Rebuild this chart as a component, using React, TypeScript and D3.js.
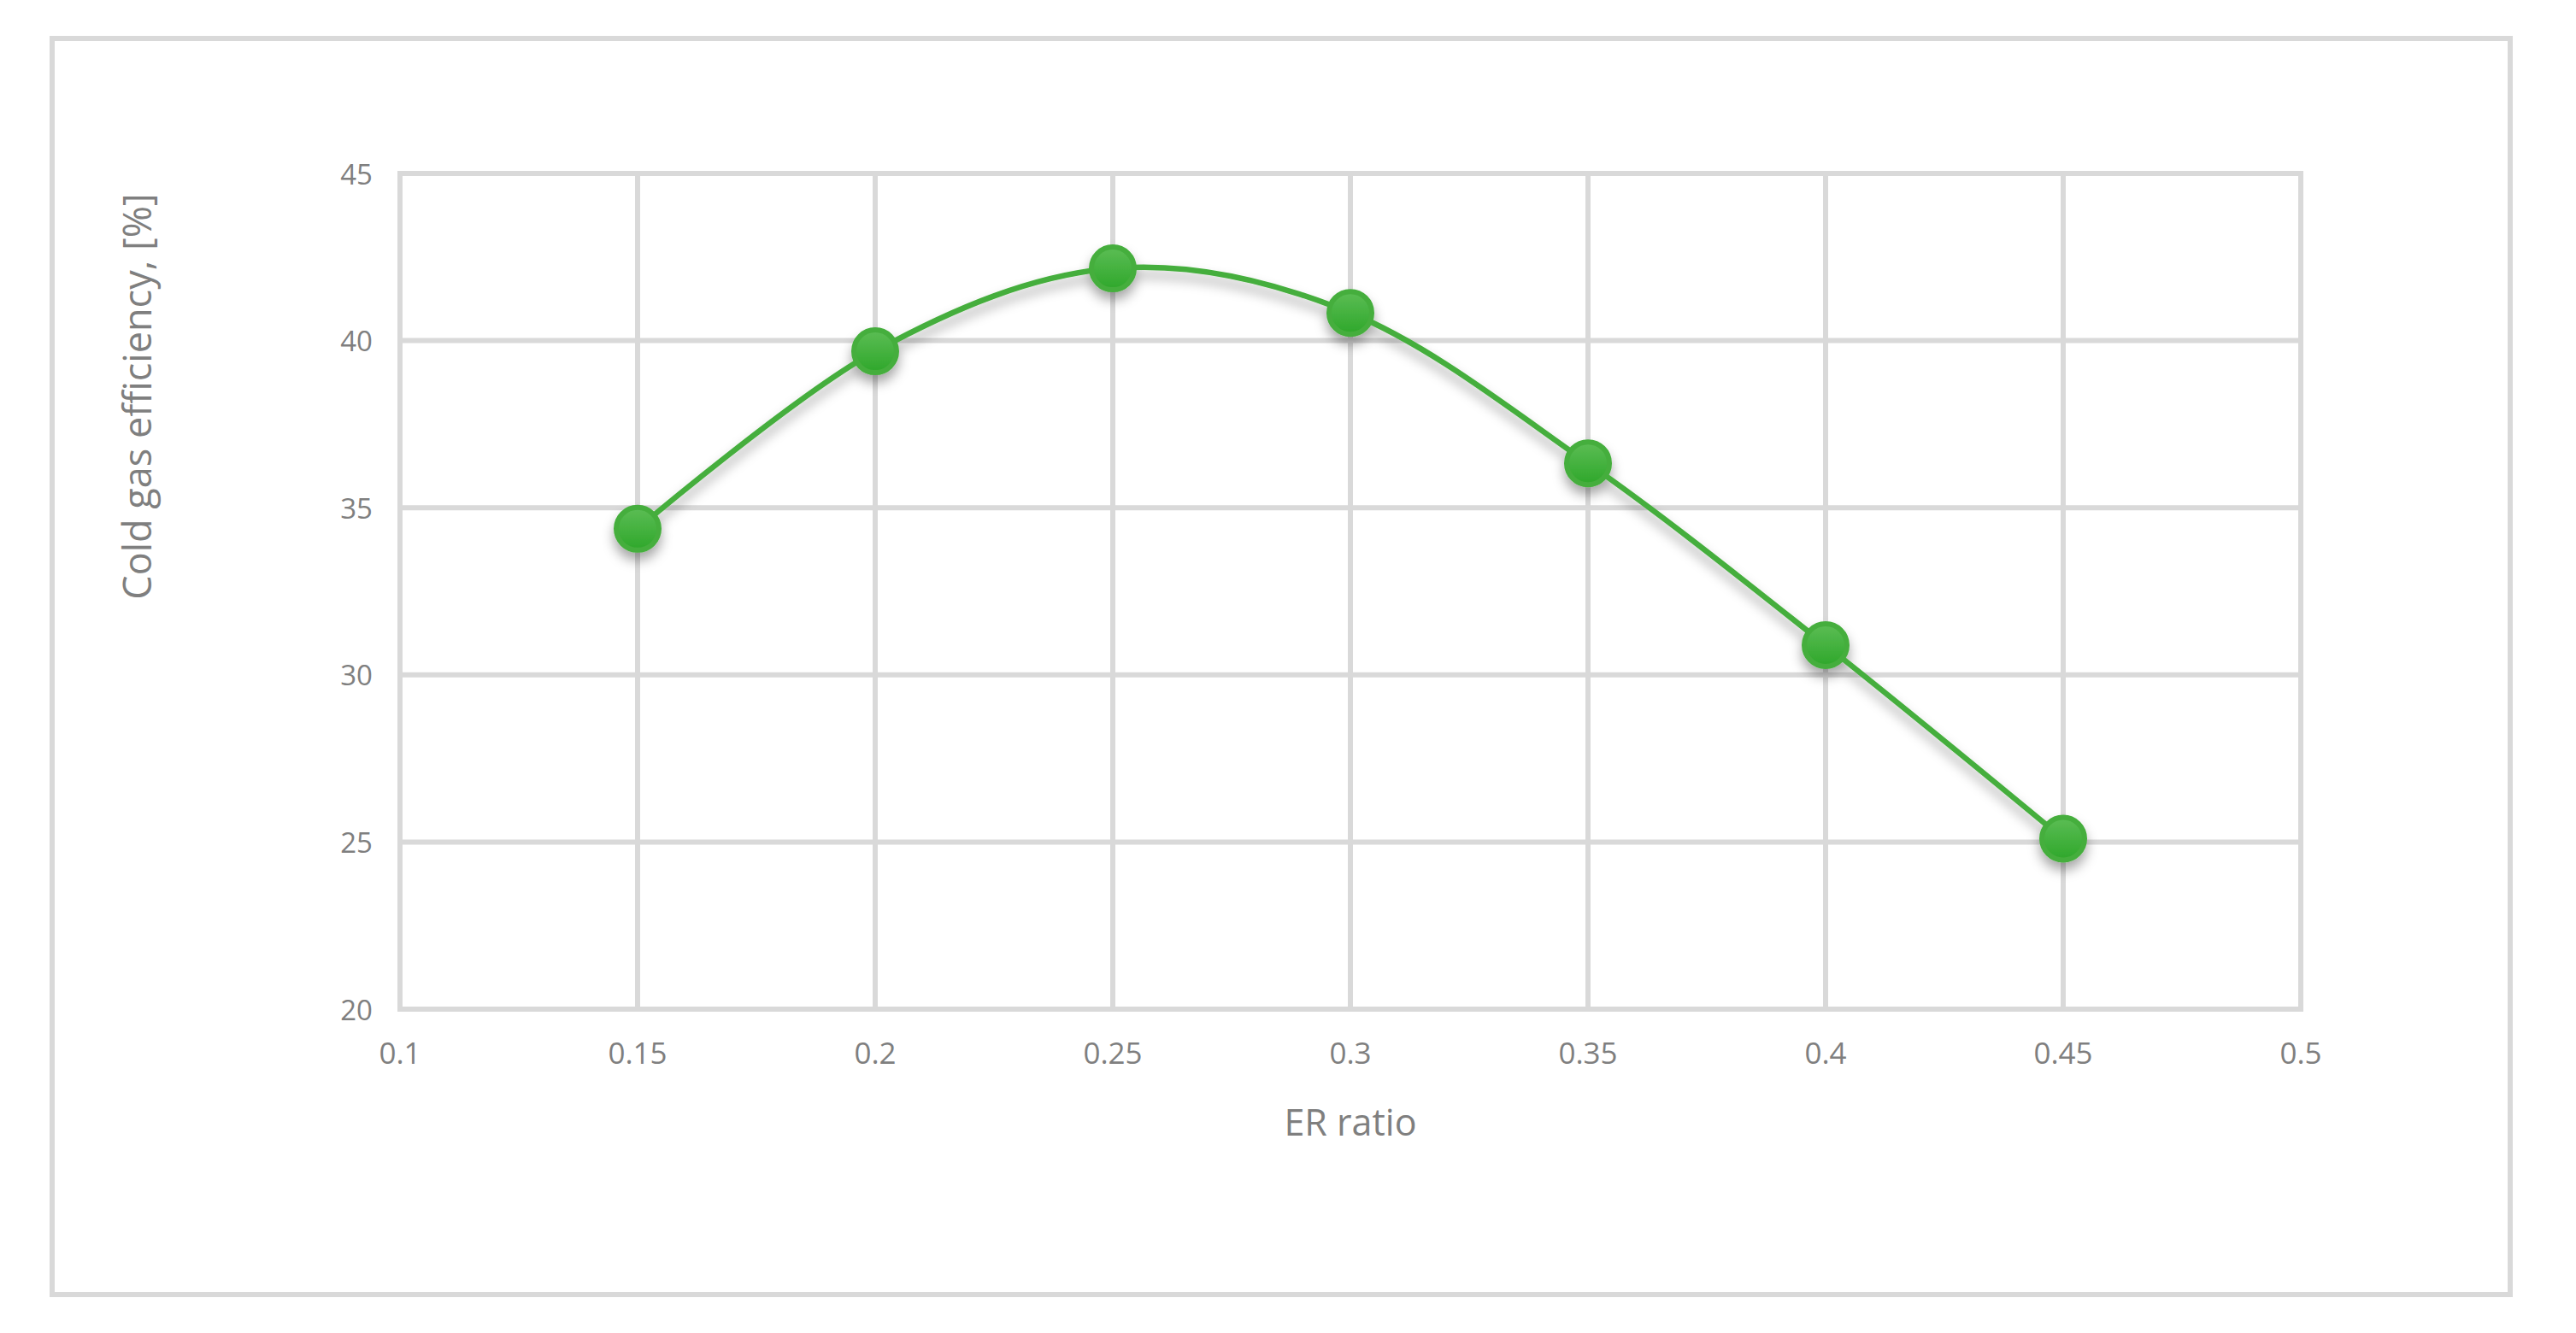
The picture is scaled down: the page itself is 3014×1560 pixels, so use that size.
import React from "react";
import * as d3 from "d3";

const erRatio = [0.15, 0.2, 0.25, 0.3, 0.35, 0.4, 0.45];
const coldGasEfficiency = [34.37, 39.68, 42.16, 40.83, 36.33, 30.89, 25.1];
const xTicks = [0.1, 0.15, 0.2, 0.25, 0.3, 0.35, 0.4, 0.45, 0.5];
const yTicks = [20, 25, 30, 35, 40, 45];
const xTitle = "ER ratio";
const yTitle = "Cold gas efficiency, [%]";

const W = 3014;
const H = 1560;
const plot = { left: 468, right: 2692, top: 203, bottom: 1181 };
const GRID = "#d9d9d9";
const TEXT = "#7f7f7f";
const GREEN = "#45ae3c";
const FONT = "'Open Sans', 'Noto Sans', sans-serif";

export default function App() {
  const x = d3.scaleLinear().domain([0.1, 0.5]).range([plot.left, plot.right]);
  const y = d3.scaleLinear().domain([20, 45]).range([plot.bottom, plot.top]);
  const pts: [number, number][] = erRatio.map((e, i) => [x(e), y(coldGasEfficiency[i])]);
  const line = d3.line().curve(d3.curveCardinal.tension(0))(pts) || "";

  return (
    <svg
      width={W}
      height={H}
      viewBox={`0 0 ${W} ${H}`}
      style={{ position: "absolute", left: 0, top: 0, background: "#fff" }}
    >
      <defs>
        <filter id="shadow" x="-50%" y="-50%" width="200%" height="200%">
          <feDropShadow dx="0" dy="9" stdDeviation="7" floodColor="#000" floodOpacity="0.35" />
        </filter>
        <linearGradient id="mk" x1="0" y1="0" x2="0" y2="1">
          <stop offset="0%" stopColor="#5cbd55" />
          <stop offset="100%" stopColor="#2ea72a" />
        </linearGradient>
      </defs>
      <rect x={0} y={0} width={W} height={H} fill="#fff" />
      <rect x={61} y={45} width={2876} height={1470} fill="none" stroke={GRID} strokeWidth={6} />

      {yTicks.map((t) => (
        <line key={"gy" + t} x1={plot.left} x2={plot.right} y1={y(t)} y2={y(t)} stroke={GRID} strokeWidth={6} />
      ))}
      {xTicks.map((t) => (
        <line key={"gx" + t} x1={x(t)} x2={x(t)} y1={plot.top} y2={plot.bottom} stroke={GRID} strokeWidth={6} />
      ))}
      <rect
        x={plot.left}
        y={plot.top}
        width={plot.right - plot.left}
        height={plot.bottom - plot.top}
        fill="none"
        stroke={GRID}
        strokeWidth={6}
      />

      {yTicks.map((t) => (
        <text
          key={"ly" + t}
          x={plot.left - 32}
          y={y(t)}
          textAnchor="end"
          dominantBaseline="central"
          fontFamily={FONT}
          fontSize={33}
          fill={TEXT}
        >
          {t}
        </text>
      ))}
      {xTicks.map((t) => (
        <text
          key={"lx" + t}
          x={x(t)}
          y={1245}
          textAnchor="middle"
          fontFamily={FONT}
          fontSize={35}
          fill={TEXT}
        >
          {String(t)}
        </text>
      ))}

      <text x={(plot.left + plot.right) / 2} y={1329} textAnchor="middle" fontFamily={FONT} fontSize={43} fill={TEXT}>
        {xTitle}
      </text>
      <text
        transform={`translate(177, 464) rotate(-90)`}
        textAnchor="middle"
        fontFamily={FONT}
        fontSize={45}
        fill={TEXT}
      >
        {yTitle}
      </text>

      <g filter="url(#shadow)">
        <path d={line} fill="none" stroke={GREEN} strokeWidth={6.5} strokeLinecap="round" />
        {pts.map(([px, py], i) => (
          <g key={"m" + i}>
            <circle cx={px} cy={py} r={25} fill="url(#mk)" stroke={GREEN} strokeWidth={6} />
          </g>
        ))}
      </g>
    </svg>
  );
}
